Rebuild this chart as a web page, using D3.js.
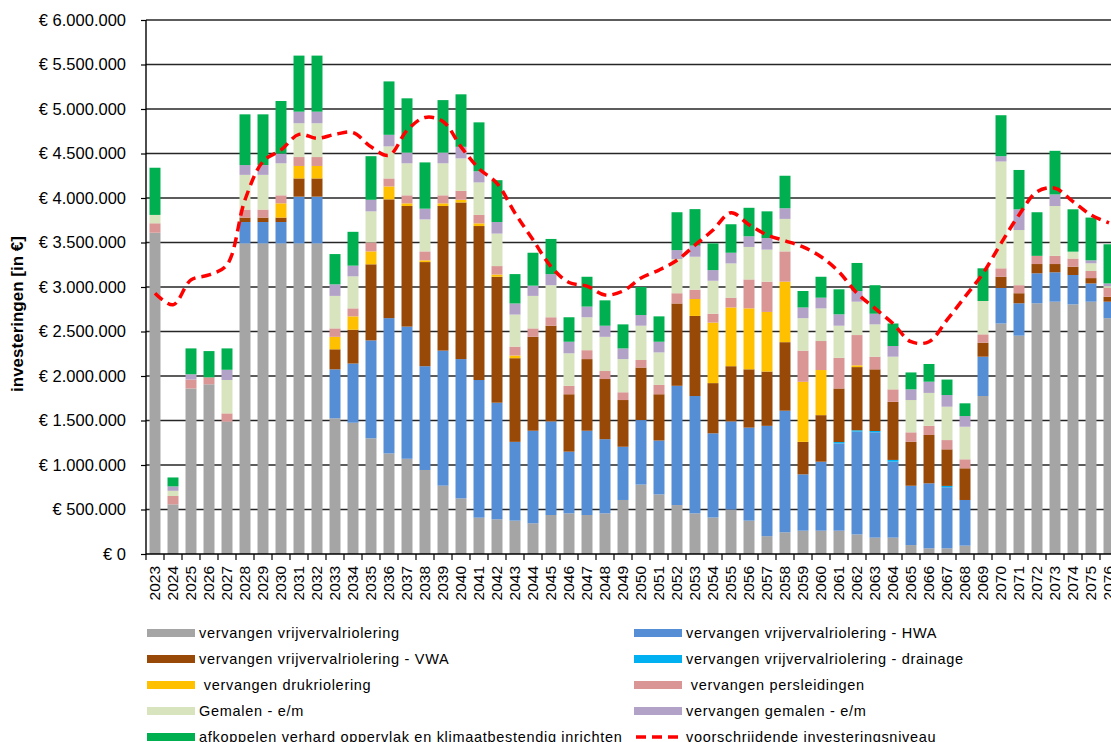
<!DOCTYPE html>
<html><head><meta charset="utf-8">
<script src="https://cdn.jsdelivr.net/npm/d3@7"></script>
<style>
html,body{margin:0;padding:0;background:#fff;overflow:hidden}
text{font-family:"Liberation Sans",Arial,sans-serif}
</style></head>
<body><svg id="c" width="1111" height="742"></svg>
<script>
// values in thousands of euros
const UNIT = 1000;
const years = d3.range(2023, 2077).map(String);
const vrijverval = [3610,558,1860,1907,1487,3490,3490,3490,3490,3490,1525,1475,1300,1130,1070,944,768,625,408,390,375,345,438,457,438,457,607,780,670,550,457,410,500,375,200,244,262,262,262,220,184,184,100,64,64,94,1775,2590,2453,2817,2835,2805,2835,2650];
const hwa = [0,0,0,0,0,240,240,240,525,525,550,665,1100,1520,1485,1166,1517,1565,1547,1310,885,1040,1052,693,947,833,598,725,605,1340,1318,946,990,1045,1240,1366,633,775,981,1155,1183,853,667,730,686,513,442,400,364,337,330,330,205,185];
const drainage = [0,0,0,0,0,0,0,0,0,0,0,0,0,0,0,0,0,0,0,0,0,0,0,0,0,0,0,0,0,0,0,0,0,0,0,0,0,0,15,15,15,20,0,0,15,0,0,0,0,0,0,0,0,0];
const vwa = [0,0,0,0,0,50,50,50,205,205,225,380,855,1335,1355,1170,1625,1760,1730,1415,940,1055,1075,645,805,676,525,590,520,925,900,564,620,655,610,770,365,523,602,710,693,653,493,543,411,356,157,125,113,104,93,93,60,55];
const druk = [0,0,0,0,0,0,0,160,140,140,140,150,145,145,30,20,30,30,30,25,30,0,0,0,0,0,0,0,0,0,190,680,660,685,670,680,675,507,0,20,0,0,0,0,0,0,0,0,0,0,0,0,0,0];
const persleidingen = [106,94,100,78,93,90,90,90,100,100,95,90,100,90,90,100,90,100,95,95,100,95,95,95,100,90,87,85,105,115,105,100,110,325,340,340,350,326,345,340,142,140,107,103,104,101,94,95,90,92,92,92,80,100];
const gemalen = [94,58,0,0,375,390,390,360,380,380,365,360,350,360,360,360,360,365,365,365,360,365,360,365,370,384,373,385,365,385,370,370,385,365,360,365,365,367,360,375,363,367,363,370,375,366,375,1200,620,0,560,77,86,20];
const vervGemalen = [0,50,60,0,115,110,110,110,130,130,130,120,130,130,120,120,120,130,125,130,125,115,125,130,120,125,120,120,120,100,125,120,120,120,130,120,120,120,128,120,120,120,120,126,131,120,0,60,233,0,130,0,34,30];
const afkoppelen = [530,100,290,295,240,570,570,590,630,630,340,380,490,600,610,520,590,590,550,470,330,370,395,275,335,285,270,315,285,425,410,300,320,320,300,365,185,235,281,315,320,253,190,199,174,143,367,460,442,490,490,476,480,440];
const niveau = [2930,2800,3080,3135,3250,3980,4410,4540,4715,4670,4715,4735,4575,4480,4760,4905,4860,4575,4330,4165,3830,3530,3230,3050,3010,2910,2955,3100,3190,3300,3470,3640,3835,3700,3585,3520,3450,3340,3170,2930,2760,2590,2385,2385,2630,2890,3154,3490,3810,4070,4110,3960,3810,3720];
const yTicks = d3.range(0, 6000001, 500000);

const series = [
  {key:"vrijverval", label:"vervangen vrijvervalriolering", color:"#a5a5a5", vals:vrijverval},
  {key:"hwa", label:"vervangen vrijvervalriolering - HWA", color:"#558ed5", vals:hwa},
  {key:"drainage", label:"vervangen vrijvervalriolering - drainage", color:"#00b0f0", vals:drainage},
  {key:"vwa", label:"vervangen vrijvervalriolering - VWA", color:"#984807", vals:vwa},
  {key:"druk", label:" vervangen drukriolering", color:"#ffc000", vals:druk},
  {key:"pers", label:" vervangen persleidingen", color:"#d99694", vals:persleidingen},
  {key:"gemalen", label:"Gemalen - e/m", color:"#d7e4bd", vals:gemalen},
  {key:"vgemalen", label:"vervangen gemalen - e/m", color:"#b3a2c7", vals:vervGemalen},
  {key:"afk", label:"afkoppelen verhard oppervlak en klimaatbestendig inrichten", color:"#00b050", vals:afkoppelen}
];
const table = years.map((y,i)=>{const o={year:y}; series.forEach(s=>o[s.key]=s.vals[i]*UNIT); return o;});

const svg = d3.select("#c");
const x = d3.scaleBand().domain(years).range([146, 146+54*18]).paddingInner(0.39).paddingOuter(0.195);
const y = d3.scaleLinear().domain([0, 6000000]).range([554, 20]);
const loc = d3.formatLocale({decimal:",", thousands:".", grouping:[3], currency:["€ ",""]});
const fmt = v => "€ " + loc.format(",.0f")(v);

// gridlines
svg.append("g").selectAll("line").data(yTicks.slice(1)).join("line")
  .attr("x1",146).attr("x2",1111).attr("y1",d=>y(d)).attr("y2",d=>y(d))
  .attr("stroke","#262626").attr("stroke-width",1.4);

// bars
const stack = d3.stack().keys(series.map(s=>s.key))(table);
svg.append("g").selectAll("g").data(stack).join("g")
  .attr("fill",(d,i)=>series[i].color)
  .selectAll("rect").data(d=>d).join("rect")
  .attr("x",d=>x(d.data.year)).attr("width",x.bandwidth())
  .attr("y",d=>y(d[1])).attr("height",d=>Math.max(0,y(d[0])-y(d[1])));

// line
const line = d3.line().x((d,i)=>x(years[i])+x.bandwidth()/2).y(d=>y(d*UNIT)).curve(d3.curveCatmullRom.alpha(0.5));
svg.append("path").datum(niveau).attr("d",line).attr("fill","none")
  .attr("stroke","#ff0000").attr("stroke-width",3.5).attr("stroke-dasharray","10,6");

// y axis
const ya = svg.append("g").attr("transform","translate(146,0)")
  .call(d3.axisLeft(y).tickValues(yTicks).tickFormat(fmt).tickSize(5).tickPadding(15));
ya.select(".domain").attr("stroke","#000").attr("stroke-width",1.4).attr("d","M0,20V554");
ya.selectAll(".tick line").attr("stroke","#000").attr("stroke-width",1.2);
ya.selectAll("text").attr("font-size",16.5).attr("fill","#000").attr("font-family","Liberation Sans, Arial");

// x axis
const xa = svg.append("g").attr("transform","translate(0,554)");
xa.append("line").attr("x1",146).attr("x2",1111).attr("stroke","#000").attr("stroke-width",1.4);
xa.selectAll("line.t").data(d3.range(0,55)).join("line").attr("class","t")
  .attr("x1",i=>146+i*x.step()).attr("x2",i=>146+i*x.step()).attr("y1",0).attr("y2",6)
  .attr("stroke","#000").attr("stroke-width",1.2);
xa.selectAll("text").data(years).join("text")
  .attr("transform",d=>`translate(${x(d)+x.bandwidth()/2+5},12) rotate(-90)`)
  .attr("text-anchor","end").attr("font-size",15.5).attr("fill","#000").text(d=>d);

// y title
svg.append("text").attr("transform","translate(23,314) rotate(-90)").attr("text-anchor","middle")
  .attr("font-size",17).attr("font-weight","bold").attr("fill","#000").text("investeringen  [in €]");

// legend
const legendItems = [
  series[0], series[1], series[3], series[2], series[4], series[5], series[6], series[7], series[8],
  {label:"voorschrijdende investeringsniveau", line:true, color:"#ff0000"}
];
const lg = svg.append("g");
legendItems.forEach((it,i)=>{
  const col = i%2, row = Math.floor(i/2);
  const lx = col===0 ? 147 : 634, ly = 633 + row*26;
  const g = lg.append("g").attr("transform",`translate(${lx},${ly})`);
  if(it.line){
    g.append("line").attr("x1",2).attr("x2",48).attr("y1",0).attr("y2",0)
      .attr("stroke",it.color).attr("stroke-width",3.5).attr("stroke-dasharray","10,6");
  } else {
    g.append("rect").attr("x",0).attr("y",-4).attr("width",48).attr("height",8).attr("fill",it.color);
  }
  g.append("text").attr("x",52).attr("y",5).attr("font-size",14.5).attr("letter-spacing",0.7)
    .style("white-space","pre").attr("fill","#000").text(it.label);
});
</script></body></html>
